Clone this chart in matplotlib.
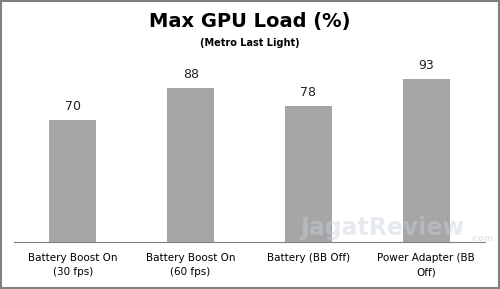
import matplotlib
matplotlib.use('Agg')
import matplotlib.pyplot as plt
from matplotlib.patches import Rectangle

categories = ['Battery Boost On\n(30 fps)', 'Battery Boost On\n(60 fps)',
              'Battery (BB Off)', 'Power Adapter (BB\nOff)']
values = [70, 88, 78, 93]

fig = plt.figure(figsize=(5.0, 2.89), dpi=100)
ax = fig.add_axes([0.028, 0.163, 0.942, 0.605])

x = range(len(values))
ax.bar(x, values, width=0.4, color='#a6a6a6', zorder=2)
for xi, v in zip(x, values):
    ax.text(xi, v + 4, str(v), ha='center', va='bottom', fontsize=9, color='#222222')

ax.set_xlim(-0.5, len(values) - 0.5)
ax.set_ylim(0, 100)
ax.set_xticks(list(x))
ax.set_xticklabels(categories, fontsize=7.5, va='top', linespacing=1.5)
ax.tick_params(axis='x', length=0, pad=8)
ax.set_yticks([])
for s in ['top', 'right', 'left']:
    ax.spines[s].set_visible(False)
ax.spines['bottom'].set_color('#808080')

fig.text(0.5, 0.925, 'Max GPU Load (%)', ha='center', va='center',
         fontsize=14, fontweight='bold')
fig.text(0.5, 0.85, '(Metro Last Light)', ha='center', va='center',
         fontsize=7, fontweight='bold')

# faint watermark
fig.text(0.765, 0.21, 'JagatReview', ha='center', va='center', fontsize=17,
         fontweight='bold', color='#c8d2dc', alpha=0.45, zorder=3)
fig.text(0.963, 0.175, '.com', ha='center', va='center', fontsize=6.5,
         fontweight='bold', color='#c8d2dc', alpha=0.45, zorder=3)

# outer border
fig.patches.append(Rectangle((0.002, 0.003), 0.996, 0.994, transform=fig.transFigure,
                             fill=False, edgecolor='#808080', linewidth=1.5))

fig.savefig('out.png', dpi=100)
